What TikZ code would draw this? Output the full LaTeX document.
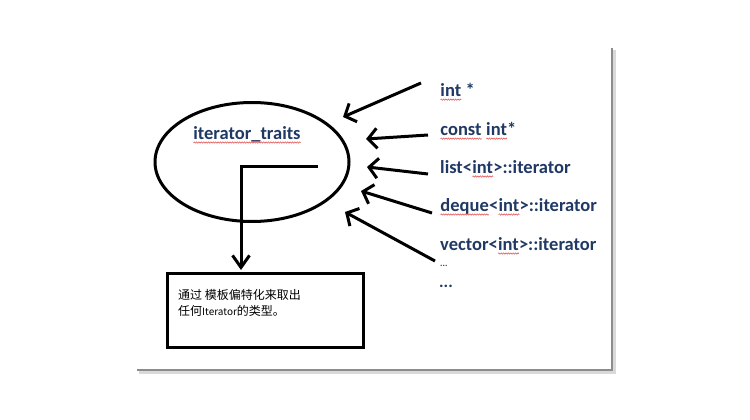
\documentclass[tikz,border=0pt]{standalone}
\usepackage{fontspec}
\setmainfont{Carlito}
\newfontfamily\cjk{Noto Sans CJK SC}
\usetikzlibrary{arrows.meta,shapes.geometric,decorations.pathmorphing}
\definecolor{navy}{HTML}{1F3864}
\definecolor{squig}{HTML}{E04848}
\newcommand\sq[1]{\tikz[baseline=(w.base),x=1pt,y=1pt]{\node[inner sep=0pt,outer sep=0pt,anchor=center] (w) {#1};
  \draw[squig, line width=0.5pt, decorate, decoration={snake, segment length=2.4pt, amplitude=0.7pt}] ([yshift=-3pt]w.base west) -- ([yshift=-3pt]w.base east);}}
\tikzset{
  thick line/.style={line width=3pt, black},
  inarrow/.style={thick line, -{Straight Barb[length=9pt,width=20pt,line width=3pt]}},
  lbl/.style={anchor=west, inner sep=0pt, font=\fontsize{18.5}{22}\selectfont\bfseries, text=navy},
  shadowline/.style={line width=2pt, draw=black!45},
}
\begin{document}
\begin{tikzpicture}[x=1pt,y=-1pt]
\useasboundingbox (0,0) rectangle (750,420);
% page shadow
\draw[line width=3pt, draw=black!15] (614,50) -- (614,372) -- (139,372);
\draw[shadowline] (612,48) -- (612,370) -- (137,370);
% ellipse
\node[ellipse, thick line, draw, minimum width=194pt, minimum height=119pt] (ell) at (252,162) {};
\node[lbl, anchor=center] (title) at (247,135) {\sq{iterator\_traits}};
% right labels
\node[lbl] (l1) at (440,92) {\sq{int} *};
\node[lbl] (l2) at (440,131) {\sq{const} \sq{int}*};
\node[lbl] (l3) at (440,169) {list<\sq{int}>::iterator};
\node[lbl] (l4) at (440,207) {\sq{deque}<\sq{int}>::iterator};
\node[lbl] (l5) at (440,246) {vector<\sq{int}>::iterator};
\node[lbl, font=\fontsize{9}{10}\selectfont\bfseries] (d1) at (440,266) {...};
\node[lbl, font=\fontsize{17}{18}\selectfont\bfseries] (d2) at (439,286) {...};
% arrow endpoints
\coordinate (s1) at (421,83);  \coordinate (t1) at (343,117);
\coordinate (s2) at (428,135); \coordinate (t2) at (366,139);
\coordinate (s3) at (428,174); \coordinate (t3) at (367,167);
\coordinate (s4) at (432,213); \coordinate (t4) at (361,191);
\coordinate (s5) at (435,261); \coordinate (t5) at (345,212);
\draw[inarrow] (s1) -- (t1);
\draw[inarrow] (s2) -- (t2);
\draw[inarrow] (s3) -- (t3);
\draw[inarrow] (s4) -- (t4);
\draw[inarrow] (s5) -- (t5);
% box
\node[draw, thick line, minimum width=196pt, minimum height=74pt, inner sep=0pt] (box) at (265,310) {};
\node[anchor=north west, align=left, inner sep=0pt, font=\cjk\fontsize{12}{16}\selectfont] (boxtext) at (178,289) {通过 模板偏特化来取出\\任何{\fontsize{10}{16}\selectfont Iterator}的类型。};
% elbow arrow
\coordinate (e1) at (318,166);
\coordinate (e2) at (241,270);
\draw[thick line, -{Straight Barb[length=12pt,width=17pt,line width=3pt]}] (e1) -| (e2);
\end{tikzpicture}
\end{document}
